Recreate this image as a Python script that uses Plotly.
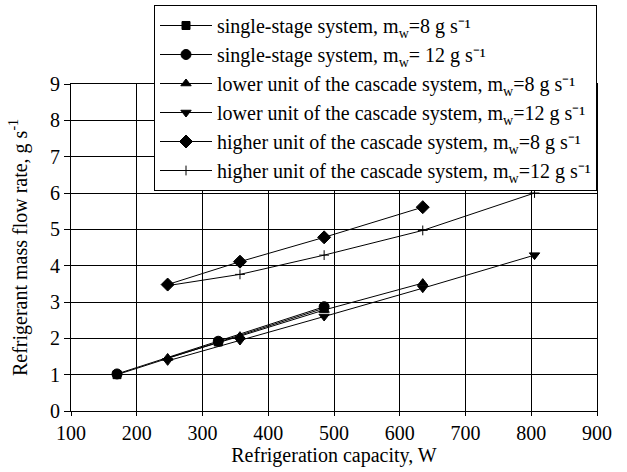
import plotly.graph_objects as go

# Data
ss8_x = [170, 324, 485]
ss8_y = [1.0, 1.9, 2.83]
ss12_x = [170, 324, 485]
ss12_y = [1.02, 1.92, 2.87]
low8_x = [247, 357, 485, 635]
low8_y = [1.46, 2.06, 2.78, 3.52]
low12_x = [247, 357, 485, 635, 805]
low12_y = [1.38, 1.94, 2.60, 3.38, 4.29]
high8_x = [247, 357, 485, 635]
high8_y = [3.48, 4.11, 4.78, 5.61]
high12_x = [247, 357, 485, 635, 805]
high12_y = [3.45, 3.76, 4.29, 4.97, 6.0]

names = [
    "single-stage system, m<sub>w</sub>=8 g s⁻¹",
    "single-stage system, m<sub>w</sub>= 12 g s⁻¹",
    "lower unit of the cascade system, m<sub>w</sub>=8 g s⁻¹",
    "lower unit of the cascade system, m<sub>w</sub>=12 g s⁻¹",
    "higher unit of the cascade system, m<sub>w</sub>=8 g s⁻¹",
    "higher unit of the cascade system, m<sub>w</sub>=12 g s⁻¹",
]

series = [
    (ss8_x, ss8_y, "square", 8),
    (ss12_x, ss12_y, "circle", 10),
    (low8_x, low8_y, "triangle-up", 9),
    (low12_x, low12_y, "triangle-down", 9),
    (high8_x, high8_y, "diamond", 10),
    (high12_x, high12_y, "cross-thin", 7),
]

fig = go.Figure()
for (xs, ys, sym, sz), nm in zip(series, names):
    fig.add_trace(go.Scatter(
        x=xs, y=ys, name=nm, mode="lines+markers",
        line=dict(color="black", width=1),
        marker=dict(symbol=sym, size=sz, color="black",
                    line=dict(color="black", width=1)),
    ))

font = dict(family="Liberation Serif", size=20, color="black")
lfont = dict(family="Liberation Serif", size=20, color="black")

fig.update_layout(
    width=627, height=472,
    margin=dict(l=71, r=30, t=84, b=61, autoexpand=False),
    paper_bgcolor="white", plot_bgcolor="white",
    font=font,
    showlegend=True,
    legend=dict(
        xref="paper", x=1, xanchor="right",
        yref="container", y=1 - 5 / 472, yanchor="top",
        bgcolor="white", bordercolor="black", borderwidth=1,
        font=lfont, tracegroupgap=0, itemwidth=52,
    ),
)
fig.update_xaxes(
    range=[100, 900], dtick=100, tick0=100,
    showgrid=True, gridcolor="black", gridwidth=1,
    showline=True, linecolor="black", linewidth=1, mirror=True,
    ticks="outside", ticklen=4, tickcolor="black",
    zeroline=False, tickfont=font, automargin=False,
    title=dict(text="Refrigeration capacity, W", standoff=2, font=font),
)
fig.update_yaxes(
    range=[0, 9], dtick=1,
    showgrid=True, gridcolor="black", gridwidth=1,
    showline=True, linecolor="black", linewidth=1, mirror=True,
    ticks="outside", ticklen=6, tickcolor="black",
    zeroline=False, tickfont=font, automargin=False,
    title=dict(text="Refrigerant mass flow rate, g s<sup>-1</sup>", standoff=17, font=font),
)

fig.write_html("out.html", config={"displayModeBar": False},
               post_script="document.body.style.margin='0';")
